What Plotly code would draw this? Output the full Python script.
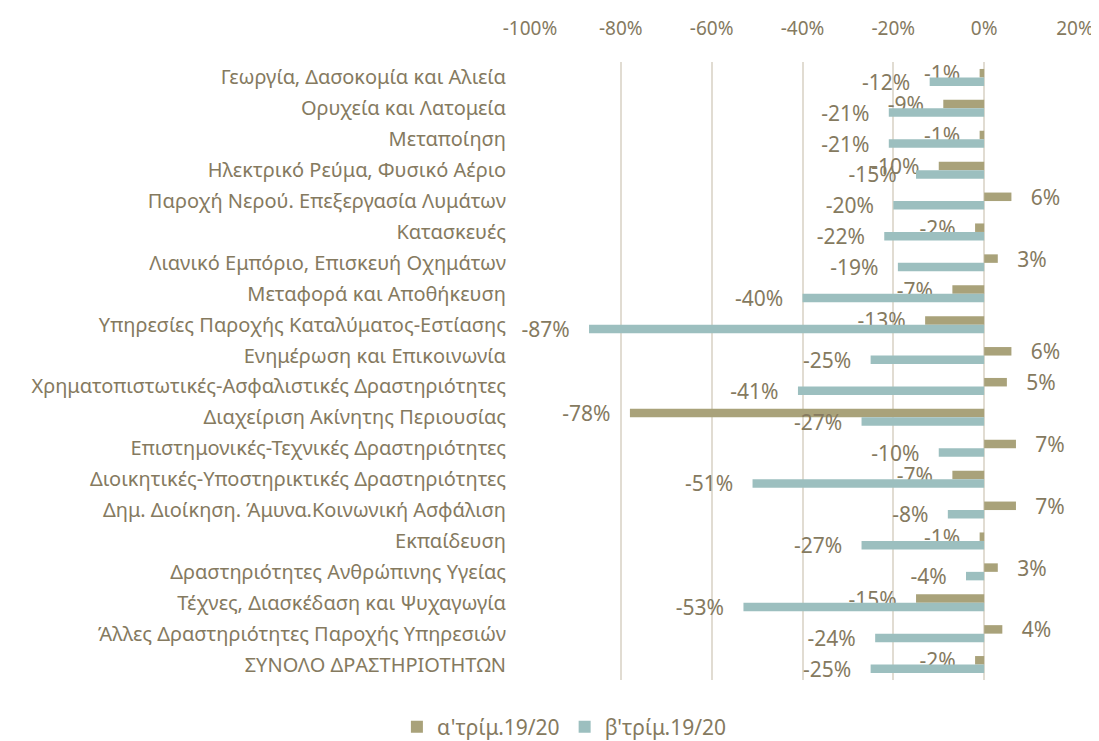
import plotly.graph_objects as go

categories = [
    "Γεωργία, Δασοκομία και Αλιεία",
    "Ορυχεία και Λατομεία",
    "Μεταποίηση",
    "Ηλεκτρικό Ρεύμα, Φυσικό Αέριο",
    "Παροχή Νερού. Επεξεργασία Λυμάτων",
    "Κατασκευές",
    "Λιανικό Εμπόριο, Επισκευή Οχημάτων",
    "Μεταφορά και Αποθήκευση",
    "Υπηρεσίες Παροχής Καταλύματος-Εστίασης",
    "Ενημέρωση και Επικοινωνία",
    "Χρηματοπιστωτικές-Ασφαλιστικές Δραστηριότητες",
    "Διαχείριση Ακίνητης Περιουσίας",
    "Επιστημονικές-Τεχνικές Δραστηριότητες",
    "Διοικητικές-Υποστηρικτικές Δραστηριότητες",
    "Δημ. Διοίκηση. Άμυνα.Κοινωνική Ασφάλιση",
    "Εκπαίδευση",
    "Δραστηριότητες Ανθρώπινης Υγείας",
    "Τέχνες, Διασκέδαση και Ψυχαγωγία",
    "Άλλες Δραστηριότητες Παροχής Υπηρεσιών",
    "ΣΥΝΟΛΟ ΔΡΑΣΤΗΡΙΟΤΗΤΩΝ",
]
q1_values = [-1, -9, -1, -10, 6, -2, 3, -7, -13, 6, 5, -78, 7, -7, 7, -1, 3, -15, 4, -2]
q2_values = [-12, -21, -21, -15, -20, -22, -19, -40, -87, -25, -41, -27, -10, -51, -8, -27, -4, -53, -24, -25]
series_names = ["α'τρίμ.19/20", "β'τρίμ.19/20"]
tick_vals = [-100, -80, -60, -40, -20, 0, 20]
tick_text = ["-100%", "-80%", "-60%", "-40%", "-20%", "0%", "20%"]

TXT = "#857a5f"
FONT = "Noto Sans"
PAD = "\u00a0\u00a0\u00a0"


def labels(vals):
    return [(PAD + f"{v}%") if v >= 0 else (f"{v}%" + PAD) for v in vals]


fig = go.Figure()
for name, vals, color in [
    (series_names[0], q1_values, "#a9a27a"),
    (series_names[1], q2_values, "#9cbfbf"),
]:
    fig.add_trace(go.Bar(
        y=categories, x=vals, name=name, orientation="h",
        marker=dict(color=color, line=dict(width=0)),
        text=labels(vals), textposition="outside",
        textfont=dict(family=FONT, size=21, color=TXT),
        constraintext="none", cliponaxis=False,
    ))

# page body has an 8px default margin; figure sized to fit the window
fig.update_layout(
    width=1091, height=733,
    margin=dict(l=522, r=24, t=54, b=61, autoexpand=False),
    paper_bgcolor="white", plot_bgcolor="white",
    barmode="group", bargap=0.45, bargroupgap=0,
    font=dict(family=FONT, color=TXT, size=19),
    legend=dict(orientation="h", xref="container", yref="container",
                x=0.51, xanchor="center", y=0.019, yanchor="middle",
                font=dict(family=FONT, size=21, color=TXT), itemwidth=30,
                traceorder="normal"),
    xaxis=dict(side="top", range=[-100, 20], tickvals=tick_vals, ticktext=tick_text,
               showgrid=True, gridcolor="#e1dcd2", gridwidth=2, zeroline=False,
               showline=False, ticks="", ticklabelstandoff=22,
               tickfont=dict(family=FONT, size=19, color=TXT)),
    yaxis=dict(autorange="reversed", showgrid=False, zeroline=False, showline=False,
               ticks="", ticklabelstandoff=23,
               tickfont=dict(family=FONT, size=20, color=TXT)),
)

fig.write_html("out.html")
